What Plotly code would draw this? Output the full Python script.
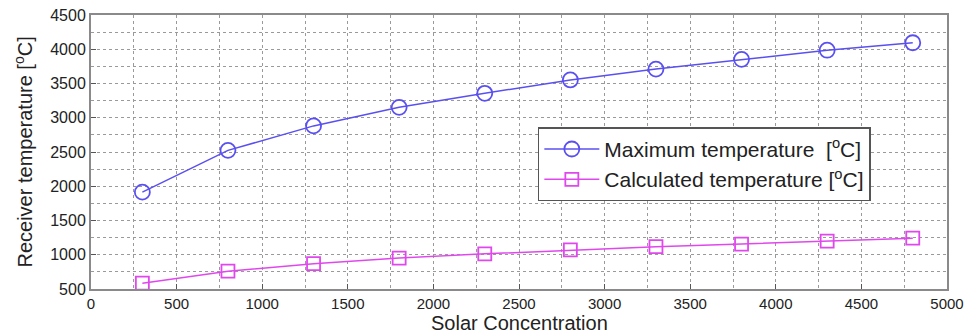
import plotly.graph_objects as go

# Solar concentration ratios at which the receiver was evaluated
concentration = [300, 800, 1300, 1800, 2300, 2800, 3300, 3800, 4300, 4800]
# Receiver temperatures in degrees Celsius
max_temperature = [1914, 2524, 2881, 3152, 3357, 3552, 3710, 3853, 3986, 4095]
calc_temperature = [585, 760, 870, 952, 1013, 1070, 1118, 1156, 1199, 1242]

X_TITLE = "Solar Concentration"
Y_TITLE = "Receiver temperature [<sup>o</sup>C]"

BLUE = "#5a50f0"
MAGENTA = "#e048ee"
FONT = "Liberation Sans, Arial, sans-serif"
BOTTOM = 47

fig = go.Figure()
fig.add_trace(go.Scatter(
    x=concentration, y=max_temperature, mode="lines+markers",
    name="Maximum temperature  [<sup>o</sup>C]",
    line=dict(color=BLUE, width=1.5),
    marker=dict(symbol="circle-open", size=15, color=BLUE, line=dict(width=1.8)),
))
fig.add_trace(go.Scatter(
    x=concentration, y=calc_temperature, mode="lines+markers",
    name="Calculated temperature [<sup>o</sup>C]",
    line=dict(color=MAGENTA, width=1.5),
    marker=dict(symbol="square-open", size=13, color=MAGENTA, line=dict(width=1.8)),
))

axis_common = dict(
    showline=True, mirror=True, linecolor="#8a8a8a", linewidth=2,
    ticks="inside", ticklen=5, tickcolor="#555", zeroline=False,
    automargin=False,
    showgrid=True, gridcolor="#9a9a9a", gridwidth=1, griddash="dot",
    minor=dict(dtick=250, showgrid=True, gridcolor="#9a9a9a", griddash="dot"),
)

fig.update_xaxes(
    range=[0, 5000], dtick=500, tick0=0,
    tickfont=dict(family=FONT, size=15, color="#222"),
    **axis_common,
)
fig.update_yaxes(
    range=[500, 4500], dtick=500, tick0=500,
    tickfont=dict(family=FONT, size=16, color="#222"),
    **axis_common,
)

plot_h = 336 - 15 - BOTTOM

# Axis titles placed as annotations so they sit close to the tick labels
fig.add_annotation(
    text=X_TITLE, xref="paper", yref="paper", x=0.5, y=-BOTTOM / plot_h,
    xanchor="center", yanchor="bottom", showarrow=False,
    font=dict(family=FONT, size=20, color="#222"),
)
fig.add_annotation(
    text=Y_TITLE, xref="paper", yref="paper", x=-0.08, y=0.5,
    xanchor="center", yanchor="middle", showarrow=False, textangle=-90,
    font=dict(family=FONT, size=20, color="#222"),
)

fig.update_layout(
    width=978, height=336,
    margin=dict(l=91, r=31, t=15, b=BOTTOM),
    paper_bgcolor="white", plot_bgcolor="white",
    font=dict(family=FONT, color="#222"),
    legend=dict(
        x=0.522, y=0.59, xanchor="left", yanchor="top",
        bgcolor="white", bordercolor="#555", borderwidth=1.5,
        font=dict(family=FONT, size=21, color="#222"),
        itemwidth=55, tracegroupgap=0,
    ),
    showlegend=True,
)

fig.write_html("out.html")
